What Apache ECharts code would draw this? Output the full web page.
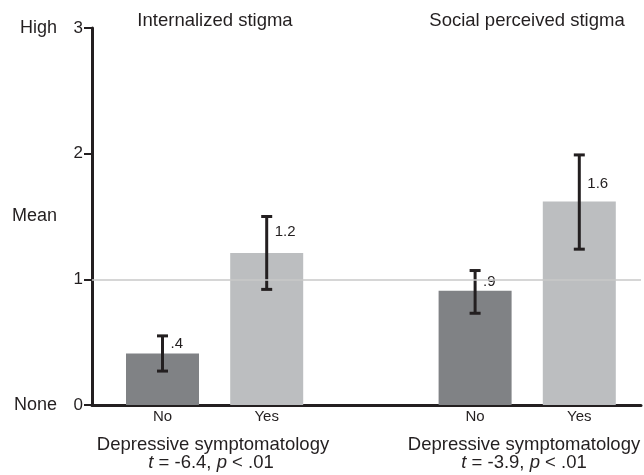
<!DOCTYPE html>
<html>
<head>
<meta charset="utf-8">
<script src="https://cdn.jsdelivr.net/npm/echarts@6/dist/echarts.min.js"></script>
<style>
  html, body { margin: 0; padding: 0; background: #fff; }
  #chart { width: 644px; height: 475px; }
</style>
</head>
<body>
<div id="chart"></div>
<script>
// data
var categories = ['No', 'Yes', '', 'No', 'Yes'];
var means = [0.41, 1.21, null, 0.91, 1.62];
var ciLow = [0.27, 0.92, null, 0.73, 1.24];
var ciHigh = [0.55, 1.50, null, 1.07, 1.99];
var meanLabels = ['.4', '1.2', '', '.9', '1.6'];
var levelNames = { 0: 'None', 1.5: 'Mean', 3: 'High' };
var groupTitles = ['Internalized stigma', 'Social perceived stigma'];
var groupAxisName = 'Depressive symptomatology';
var groupT = ['-6.4', '-3.9'];
var groupP = ['.01', '.01'];

var ink = '#231f20';
var font = 'Liberation Sans, Arial, sans-serif';
var darkBar = '#808285';
var lightBar = '#bcbec0';
var bigText = 18.5;
// label offsets under the error bar cap (px)
var labelDy = [8, 15, 0, 11, 29];

var myChart = echarts.init(document.getElementById('chart'));

var barData = means.map(function (v, i) {
  if (v == null) return '-';
  return { value: v, itemStyle: { color: categories[i] === 'No' ? darkBar : lightBar } };
});

var errData = [];
ciLow.forEach(function (lo, i) {
  if (lo != null) errData.push([i, lo, ciHigh[i]]);
});

function textEl(x, y, txt) {
  return {
    type: 'text', x: x, y: y,
    style: {
      text: txt, fill: ink, fontSize: bigText, fontFamily: font,
      align: 'center', verticalAlign: 'middle',
      rich: { i: { fontStyle: 'italic', fontSize: bigText, fontFamily: font, fill: ink } }
    }
  };
}

var option = {
  animation: false,
  grid: [
    { left: 92, right: 3, top: 28, bottom: 70 },
    { left: 110.4, right: 12.6, top: 28, bottom: 70 }
  ],
  xAxis: [
    {
      gridIndex: 0, type: 'value', min: 0, max: 1,
      axisLine: { show: true, onZero: false, lineStyle: { color: ink, width: 3 } },
      axisTick: { show: false },
      axisLabel: { show: false },
      splitLine: { show: false }
    },
    {
      gridIndex: 1, type: 'category', data: categories,
      axisLine: { show: false },
      axisTick: { show: false },
      axisLabel: { color: ink, fontSize: 15, fontFamily: font, margin: 4 }
    }
  ],
  yAxis: [
    {
      gridIndex: 0, type: 'value', min: 0, max: 3, interval: 1,
      axisLine: { show: true, lineStyle: { color: ink, width: 3 } },
      axisTick: { show: true, length: 8, lineStyle: { color: ink, width: 2 } },
      axisLabel: { color: ink, fontSize: 17, fontFamily: font, margin: 9 },
      splitLine: { show: false }
    },
    {
      gridIndex: 0, type: 'value', min: 0, max: 3, interval: 1.5, offset: 27,
      position: 'left',
      axisLine: { show: false },
      axisTick: { show: false },
      axisLabel: {
        color: ink, fontSize: 18, fontFamily: font, margin: 8,
        formatter: function (v) { return levelNames[v] || ''; }
      },
      splitLine: { show: false }
    },
    {
      gridIndex: 1, type: 'value', min: 0, max: 3, show: false
    }
  ],
  series: [
    {
      // mean reference line
      type: 'line', xAxisIndex: 0, yAxisIndex: 0, data: [], z: 1,
      markLine: {
        silent: true, symbol: 'none', label: { show: false },
        lineStyle: { color: '#c8c8c8', width: 1.5, type: 'solid' },
        data: [{ yAxis: 1 }]
      }
    },
    {
      type: 'bar', xAxisIndex: 1, yAxisIndex: 2, barWidth: 73, z: 2,
      data: barData
    },
    {
      type: 'custom', xAxisIndex: 1, yAxisIndex: 2, z: 3,
      data: errData,
      renderItem: function (params, api) {
        var idx = api.value(0);
        var lo = api.coord([idx, api.value(1)]);
        var hi = api.coord([idx, api.value(2)]);
        var cap = 5.5;
        var st = { stroke: ink, lineWidth: 3 };
        return {
          type: 'group',
          children: [
            { type: 'line', shape: { x1: hi[0], y1: hi[1], x2: lo[0], y2: lo[1] }, style: st },
            { type: 'line', shape: { x1: hi[0] - cap, y1: hi[1], x2: hi[0] + cap, y2: hi[1] }, style: st },
            { type: 'line', shape: { x1: lo[0] - cap, y1: lo[1], x2: lo[0] + cap, y2: lo[1] }, style: st },
            {
              type: 'text', x: hi[0] + 8, y: hi[1] + labelDy[idx],
              style: {
                text: meanLabels[idx], fill: ink, fontSize: 15, fontFamily: font,
                align: 'left', verticalAlign: 'middle'
              }
            }
          ]
        };
      }
    }
  ],
  graphic: [
    textEl(215, 21, groupTitles[0]),
    textEl(527, 21, groupTitles[1]),
    textEl(213, 445, groupAxisName),
    textEl(524, 445, groupAxisName),
    textEl(211, 463, '{i|t} = ' + groupT[0] + ', {i|p} < ' + groupP[0]),
    textEl(524, 463, '{i|t} = ' + groupT[1] + ', {i|p} < ' + groupP[1])
  ]
};

myChart.setOption(option);
window.addEventListener('resize', function () {
  myChart.resize();
});
</script>
</body>
</html>
